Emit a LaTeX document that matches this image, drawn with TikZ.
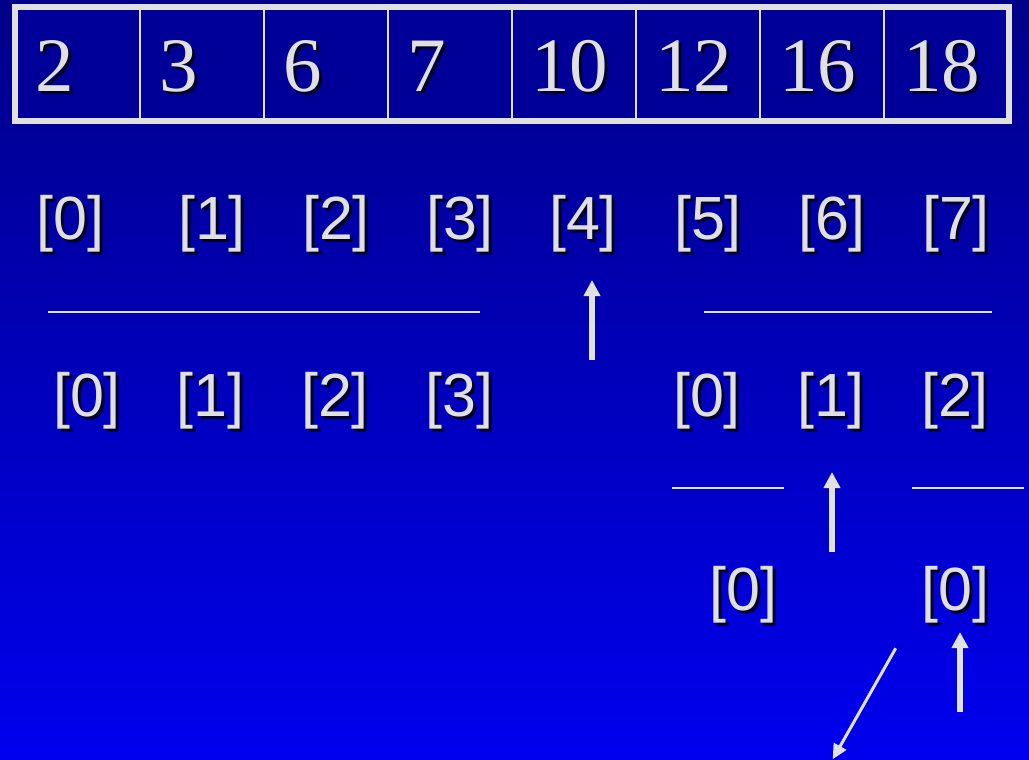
\documentclass[tikz,border=0pt]{standalone}
\usepackage{fontspec}
\setmainfont{Liberation Serif}
\newfontfamily\arialf{Liberation Sans}
\usetikzlibrary{arrows.meta}
\definecolor{bgtop}{RGB}{0,0,136}
\definecolor{bgbot}{RGB}{0,0,238}
\definecolor{cellfill}{RGB}{0,0,153}
\definecolor{fg}{RGB}{224,224,224}
\definecolor{shadowc}{RGB}{0,0,45}
\newcommand{\shd}[1]{\rlap{\kern3pt\smash{\raisebox{-3pt}{\color{shadowc}#1}}}#1}
\tikzset{
  cell/.style={draw=fg, line width=2pt, fill=cellfill, minimum width=124pt,
    minimum height=111.5pt, inner sep=0pt},
  num/.style={anchor=base west, inner sep=0pt, text=fg, font=\fontsize{77}{77}\selectfont},
  idx/.style={inner sep=0pt, text=fg, font=\arialf\fontsize{61}{61}\selectfont},
  bar/.style={draw=fg, line width=2pt},
  uparrow/.style={draw=fg, line width=5.5pt, -{Triangle[length=16pt,width=16pt]}},
  thinarrow/.style={draw=fg, line width=3pt, -{Triangle[length=15pt,width=14pt]}}
}
\begin{document}
\begin{tikzpicture}[x=1pt,y=-1pt]
\shade[top color=bgtop,bottom color=bgbot] (0,0) rectangle (1029,760);
\useasboundingbox (0,0) rectangle (1029,760);
% array cells
\foreach \i/\v in {1/2,2/3,3/6,4/7,5/10,6/12,7/16,8/18}{
  \node[cell] (c\i) at (78+124*\i-124,63.75) {};
  \node[num] (n\i) at (35+124*\i-124,91.5) {\shd{\v}};
}
\draw[draw=fg, line width=6pt] (c1.north west) rectangle (c8.south east);
% row 1 indices
\node[idx] (r1a) at (70.5,223.5) {\shd{[0]}};
\node[idx] (r1b) at (212,223.5) {\shd{[1]}};
\node[idx] (r1c) at (336,223.5) {\shd{[2]}};
\node[idx] (r1d) at (460,223.5) {\shd{[3]}};
\node[idx] (r1e) at (583,223.5) {\shd{[4]}};
\node[idx] (r1f) at (708,223.5) {\shd{[5]}};
\node[idx] (r1g) at (832,223.5) {\shd{[6]}};
\node[idx] (r1h) at (956,223.5) {\shd{[7]}};
% bars row 1
\coordinate (b1s) at (48,312); \coordinate (b1e) at (480,312);
\coordinate (b2s) at (704,312); \coordinate (b2e) at (992,312);
\draw[bar] (b1s) -- (b1e);
\draw[bar] (b2s) -- (b2e);
\coordinate (a1s) at (592,360); \coordinate (a1e) at (592,280);
\draw[uparrow] (a1s) -- (a1e);
% row 2 indices
\node[idx] (r2a) at (87,400.5) {\shd{[0]}};
\node[idx] (r2b) at (210.5,400.5) {\shd{[1]}};
\node[idx] (r2c) at (335,400.5) {\shd{[2]}};
\node[idx] (r2d) at (459.5,400.5) {\shd{[3]}};
\node[idx] (r2e) at (707,400.5) {\shd{[0]}};
\node[idx] (r2f) at (831,400.5) {\shd{[1]}};
\node[idx] (r2g) at (955,400.5) {\shd{[2]}};
% bars row 2
\coordinate (b3s) at (672,488); \coordinate (b3e) at (784,488);
\coordinate (b4s) at (912,488); \coordinate (b4e) at (1024,488);
\draw[bar] (b3s) -- (b3e);
\draw[bar] (b4s) -- (b4e);
\coordinate (a2s) at (832,552); \coordinate (a2e) at (832,472);
\draw[uparrow] (a2s) -- (a2e);
% row 3 indices
\node[idx] (r3a) at (743.5,594.5) {\shd{[0]}};
\node[idx] (r3b) at (955.5,594.5) {\shd{[0]}};
\coordinate (a3s) at (960,712); \coordinate (a3e) at (960,632);
\draw[uparrow] (a3s) -- (a3e);
\coordinate (a4s) at (895.7,648.3); \coordinate (a4e) at (832.7,759.3);
\draw[thinarrow] (a4s) -- (a4e);
\end{tikzpicture}
\end{document}
